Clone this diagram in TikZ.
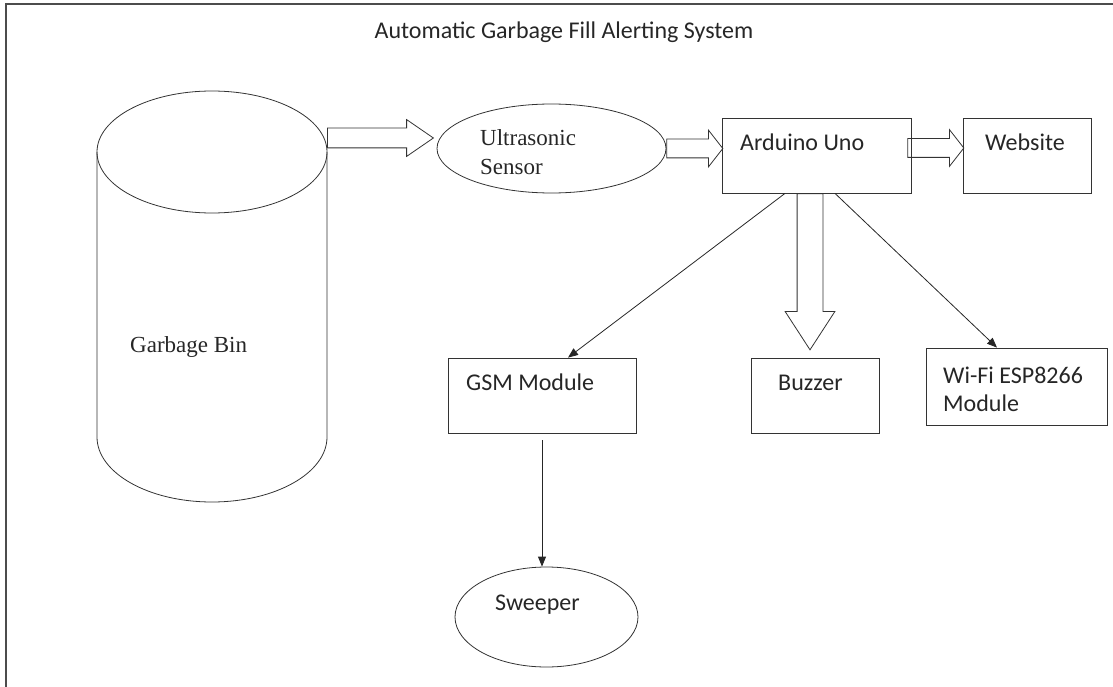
\documentclass[tikz,border=0pt]{standalone}
\usepackage{fontspec}
\setmainfont{Liberation Serif}
\setsansfont{Carlito}
\usepackage{tikz}
\usetikzlibrary{arrows.meta, shapes.geometric, shapes.arrows}

\begin{document}
\begin{tikzpicture}[x=1pt, y=-1pt,
	box/.style={draw=black!80, line width=.8pt, rectangle, inner sep=0pt},
	oval/.style={draw=black!80, line width=.8pt, ellipse, inner sep=0pt},
	lbl/.style={font=\sffamily\fontsize{24}{28}\selectfont, text=black!85, anchor=west, inner sep=0pt, align=left},
	serif/.style={font=\rmfamily\fontsize{23}{29}\selectfont, text=black!85, anchor=west, inner sep=0pt, align=left},
	fat/.style={single arrow, draw=black!80, line width=.8pt, inner xsep=0pt, anchor=tail},
	link/.style={draw=black!85, line width=.8pt, -{Triangle[length=10pt, width=8pt]}}]
	\useasboundingbox (0,0) rectangle (1113,687);
	\draw[line width=1.6pt, black!70] (6,687) -- (6,4) -- (1113,4);
	\node[lbl, anchor=center] (title) at (564,32) {Automatic Garbage Fill Alerting System};
	% the bin
	\draw[black!80, line width=.8pt] (212,152) ellipse [x radius=115, y radius=61];
	\draw[black!80, line width=.8pt] (97,152) -- (97,437) arc[start angle=180, end angle=0, x radius=115, y radius=65] -- (327,152);
	\coordinate (bin) at (327,138);
	\node[serif] (bintxt) at (130,347) {Garbage Bin};
	% blocks
	\node[oval, minimum width=229, minimum height=89] (sensor) at (551.5,148.5) {};
	\node[serif] (sensortxt) at (480,152.5) {Ultrasonic\\Sensor};
	\node[box, minimum width=189, minimum height=75] (arduino) at (816.5,155.5) {};
	\node[lbl] (arduinotxt) at (740,142) {Arduino Uno};
	\node[box, minimum width=128, minimum height=75] (website) at (1027,155.5) {};
	\node[lbl] (websitetxt) at (985,142) {Website};
	\node[box, minimum width=188, minimum height=75] (gsm) at (542,395.5) {};
	\node[lbl] (gsmtxt) at (466,382) {GSM Module};
	\node[box, minimum width=128, minimum height=75] (buzzer) at (815,395.5) {};
	\node[lbl] (buzzertxt) at (778,383) {Buzzer};
	\node[box, minimum width=181, minimum height=77] (wifi) at (1016.5,386.5) {};
	\node[lbl] (wifitxt) at (943,389) {Wi-Fi ESP8266\\Module};
	\node[oval, minimum width=183, minimum height=100] (sweeper) at (546.5,617) {};
	\node[lbl] (sweepertxt) at (495,605) {Sweeper};
	% fat arrows
	\node[fat, inner ysep=9.5pt, single arrow head extend=8.5pt, single arrow tip angle=69, minimum height=106] (a1) at (bin) {};
	\node[fat, inner ysep=9pt, single arrow head extend=9pt, single arrow tip angle=104, minimum height=56] (a2) at ([yshift=0pt]sensor.east) {};
	\node[fat, inner ysep=9pt, single arrow head extend=9pt, single arrow tip angle=104, minimum height=56] (a3) at ([xshift=-4pt, yshift=7.5pt]arduino.east) {};
	\node[fat, inner xsep=12.5pt, inner ysep=12.5pt, single arrow head extend=12pt, single arrow tip angle=66, minimum height=156, shape border rotate=270] (a4) at ([xshift=-6.5pt]arduino.south) {};
	% links
	\draw[link] ([xshift=-31.5pt]arduino.south) -- ([xshift=26pt]gsm.north);
	\draw[link] ([xshift=18.5pt]arduino.south) -- ([xshift=-19.5pt]wifi.north);
	\draw[link] ([yshift=-7pt]gsm.south) -- (gsm.south |- sweeper.north);
\end{tikzpicture}
\end{document}
